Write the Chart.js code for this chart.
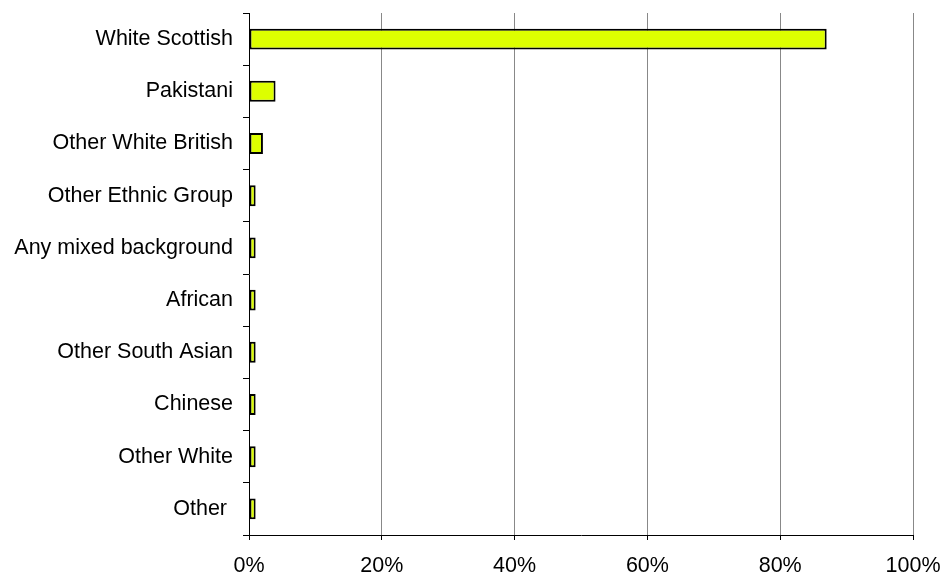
<!DOCTYPE html>
<html>
<head>
<meta charset="utf-8">
<script src="https://cdn.jsdelivr.net/npm/chart.js@4/dist/chart.umd.min.js"></script>
<style>
  html, body { margin: 0; padding: 0; background: #fff; }
  #wrap { width: 942px; height: 576px; }
</style>
</head>
<body>
<div id="wrap"><canvas id="c" width="942" height="576"></canvas></div>
<script>
const categories = [
  'White Scottish', 'Pakistani', 'Other White British', 'Other Ethnic Group',
  'Any mixed background', 'African', 'Other South Asian', 'Chinese',
  'Other White', 'Other '
];
const shares = [87, 4, 2.1, 1, 1, 1, 1, 1, 1, 1];
const xTicks = [0, 20, 40, 60, 80, 100];

const font = { family: "'Liberation Sans', Arial, sans-serif", size: 21.5 };

new Chart(document.getElementById('c'), {
  type: 'bar',
  data: {
    labels: categories,
    datasets: [{
      data: shares,
      backgroundColor: '#DDFF00',
      borderColor: '#000',
      borderWidth: 2,
      borderSkipped: false,
      categoryPercentage: 1,
      barPercentage: 0.4
    }]
  },
  options: {
    indexAxis: 'y',
    responsive: false,
    animation: false,
    layout: { padding: { top: 13, right: 29, left: 0, bottom: 0 } },
    plugins: { legend: { display: false }, tooltip: { enabled: false } },
    scales: {
      x: {
        min: 0, max: 100,
        afterBuildTicks: s => { s.ticks = xTicks.map(v => ({ value: v })); },
        afterFit: s => { s.height = 41; s.paddingLeft = 0; s.paddingRight = 0; },
        border: { color: '#000', width: 1 },
        grid: {
          color: ctx => ctx.tick && ctx.tick.value === 0 ? 'rgba(0,0,0,0)' : '#888',
          tickColor: '#000',
          tickLength: 5,
          lineWidth: 1
        },
        ticks: { color: '#000', font, padding: 13, callback: v => v + '%' }
      },
      y: {
        afterFit: s => { s.width = 249; s.paddingTop = 0; s.paddingBottom = 0; },
        border: { color: '#000', width: 1 },
        grid: {
          offset: true,
          drawOnChartArea: false,
          tickColor: '#000',
          tickLength: 6
        },
        ticks: { color: '#000', font, padding: 10, crossAlign: 'near' }
      }
    }
  }
});
</script>
</body>
</html>
